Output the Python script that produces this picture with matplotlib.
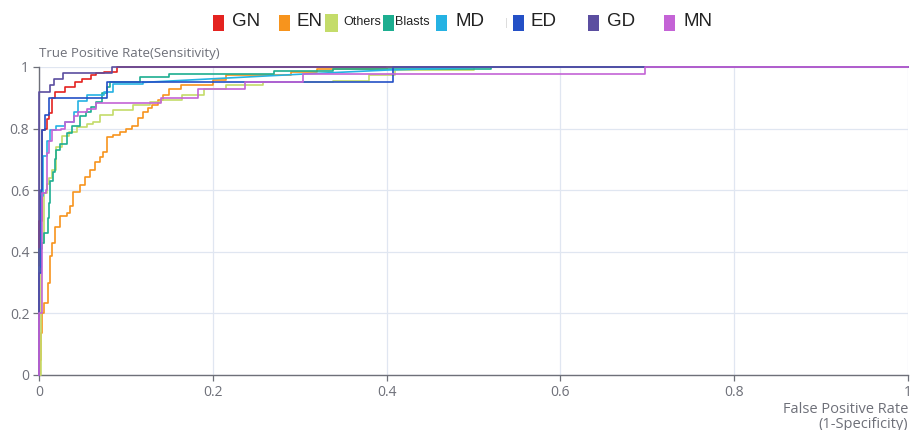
import matplotlib
matplotlib.use("Agg")
import matplotlib.pyplot as plt
from matplotlib.patches import Rectangle

W, H = 921, 430

CLASSES = ["GN", "EN", "Others", "Blasts", "MD", "ED", "GD", "MN"]
COLORS = ["#E42320", "#F7941D", "#C4DC6A", "#1DAE90", "#25B2E3", "#2450C6", "#5B4EA0", "#C463D6"]

TICKS = [0, 0.2, 0.4, 0.6, 0.8, 1]
TICK_LABELS = ["0", "0.2", "0.4", "0.6", "0.8", "1"]

# ROC points (fpr, tpr), corners of the staircase
GN_FPR = [0, 0, 0.003, 0.007, 0.009, 0.012, 0.015, 0.018, 0.03, 0.042, 0.05, 0.06, 0.066, 0.075, 0.09, 1]
GN_TPR = [0, 0.5, 0.795, 0.80, 0.83, 0.85, 0.90, 0.92, 0.935, 0.95, 0.96, 0.975, 0.98, 0.985, 1.0, 1.0]

EN_FPR = [0, 0.001, 0.002, 0.004, 0.006, 0.01, 0.013, 0.015, 0.018, 0.024, 0.032, 0.036, 0.039,
          0.047, 0.053, 0.059, 0.064, 0.07, 0.074, 0.078, 0.085, 0.093, 0.1, 0.107, 0.114, 0.12,
          0.126, 0.13, 0.137, 0.143, 0.15, 0.163, 0.2, 0.215, 0.29, 0.32, 0.40, 1]
EN_TPR = [0, 0.05, 0.135, 0.2, 0.233, 0.3, 0.385, 0.43, 0.48, 0.515, 0.525, 0.55, 0.595,
          0.617, 0.643, 0.665, 0.692, 0.708, 0.725, 0.772, 0.78, 0.79, 0.80, 0.81, 0.834, 0.855,
          0.867, 0.877, 0.893, 0.91, 0.928, 0.94, 0.957, 0.973, 0.984, 0.993, 1.0, 1.0]

OTHERS_FPR = [0, 0.002, 0.006, 0.009, 0.011, 0.015, 0.02, 0.026, 0.035, 0.044, 0.055, 0.062, 0.07,
              0.085, 0.108, 0.128, 0.14, 0.165, 0.19, 0.215, 0.258, 0.338, 0.38, 0.41, 0.5, 1]
OTHERS_TPR = [0, 0.43, 0.59, 0.62, 0.64, 0.665, 0.74, 0.775, 0.79, 0.805, 0.815, 0.82, 0.845,
              0.86, 0.877, 0.886, 0.893, 0.91, 0.93, 0.943, 0.95, 0.955, 0.975, 0.99, 1.0, 1.0]

BLASTS_FPR = [0, 0, 0.003, 0.006, 0.01, 0.012, 0.013, 0.016, 0.018, 0.02, 0.024, 0.032, 0.038,
              0.047, 0.054, 0.06, 0.066, 0.072, 0.078, 0.082, 0.116, 0.15, 0.27, 0.338, 0.52, 1]
BLASTS_TPR = [0, 0.41, 0.43, 0.46, 0.51, 0.56, 0.63, 0.66, 0.70, 0.73, 0.75, 0.785, 0.81,
              0.84, 0.855, 0.87, 0.887, 0.915, 0.935, 0.95, 0.967, 0.978, 0.987, 0.993, 1.0, 1.0]

MD_FPR = [0, 0, 0.002, 0.005, 0.009, 0.013, 0.02, 0.03, 0.04, 0.045, 0.055, 0.075, 0.085, 0.12]
MD_TPR = [0, 0.35, 0.58, 0.71, 0.76, 0.795, 0.81, 0.82, 0.855, 0.89, 0.91, 0.92, 0.945, 0.95]
# the cyan curve runs straight, not stepped, after 0.12
MD_TAIL_FPR = [0.12, 0.31, 0.40, 0.52, 1]
MD_TAIL_TPR = [0.95, 0.978, 0.99, 1.0, 1.0]

ED_FPR = [0, 0, 0.002, 0.004, 0.007, 0.012, 0.078, 0.407, 1]
ED_TPR = [0, 0.33, 0.6, 0.795, 0.845, 0.90, 0.95, 1.0, 1.0]

GD_FPR = [0, 0, 0.013, 0.017, 0.028, 0.084, 1]
GD_TPR = [0, 0.92, 0.94, 0.96, 0.98, 1.0, 1.0]

MN_FPR = [0, 0, 0.003, 0.008, 0.009, 0.012, 0.015, 0.025, 0.03, 0.04, 0.045, 0.055, 0.066,
          0.14, 0.183, 0.237, 0.304, 0.697, 1]
MN_TPR = [0, 0.2, 0.59, 0.6, 0.72, 0.76, 0.795, 0.80, 0.82, 0.84, 0.855, 0.865, 0.883,
          0.90, 0.928, 0.95, 0.978, 1.0, 1.0]

CURVES = [
    (GN_FPR, GN_TPR), (EN_FPR, EN_TPR), (OTHERS_FPR, OTHERS_TPR), (BLASTS_FPR, BLASTS_TPR),
    (MD_FPR, MD_TPR), (ED_FPR, ED_TPR), (GD_FPR, GD_TPR), (MN_FPR, MN_TPR),
]

# legend layout in pixels: square left edge, text left edge
LEGEND_SQ_X = [213, 279, 325, 383, 436, 513, 588, 664]
LEGEND_TX_X = [232, 297, 343, 395, 455, 530, 607, 683]
LEGEND_FS = [13.5, 13.5, 9, 9, 13.5, 13.5, 13.5, 13.5]

AXIS_GRAY = "#6E7079"
GRID = "#E0E6F1"

plt.rcParams["font.family"] = ["Open Sans", "DejaVu Sans"]

fig = plt.figure(figsize=(W / 100, H / 100), dpi=100)
ax = fig.add_axes([39 / W, 1 - 375 / H, (908 - 39) / W, (375 - 67) / H])

for i, (fpr, tpr) in enumerate(CURVES):
    ax.plot(fpr, tpr, drawstyle="steps-post", color=COLORS[i], lw=1.2, clip_on=False, zorder=3 + i)
    if CLASSES[i] == "MD":
        ax.plot(MD_TAIL_FPR, MD_TAIL_TPR, color=COLORS[i], lw=1.2, clip_on=False, zorder=3 + i)

ax.set_xlim(0, 1)
ax.set_ylim(0, 1)
ax.set_xticks(TICKS)
ax.set_xticklabels(TICK_LABELS)
ax.set_yticks(TICKS)
ax.set_yticklabels(TICK_LABELS)
ax.grid(True, color=GRID, lw=0.9)
ax.set_axisbelow(True)
ax.tick_params(colors=AXIS_GRAY, labelcolor=AXIS_GRAY, labelsize=10, length=4, width=0.9, pad=3)
for side in ["top", "right"]:
    ax.spines[side].set_visible(False)
for side in ["left", "bottom"]:
    ax.spines[side].set_color(AXIS_GRAY)
    ax.spines[side].set_linewidth(1.0)

fig.text(39 / W, 1 - 54 / H, "True Positive Rate(Sensitivity)", color=AXIS_GRAY,
         fontsize=9.5, ha="left", va="center")
fig.text(908 / W, 1 - 417 / H, "False Positive Rate\n(1-Specificity)", color=AXIS_GRAY,
         fontsize=10.5, ha="right", va="center", multialignment="right", linespacing=0.95)

# legend across the top
for i, name in enumerate(CLASSES):
    w = 13 if name == "Others" else 11
    h = 18 if name == "Others" else 16
    fig.add_artist(Rectangle((LEGEND_SQ_X[i] / W, 1 - (23 + h / 2) / H), w / W, h / H,
                             transform=fig.transFigure, color=COLORS[i], lw=0))
    fig.text(LEGEND_TX_X[i] / W, 1 - 22 / H, name, fontsize=LEGEND_FS[i],
             family=["Liberation Sans", "DejaVu Sans"],
             color="#222222", ha="left", va="center")
fig.add_artist(Rectangle((506 / W, 1 - 28 / H), 1 / W, 10 / H, transform=fig.transFigure,
                         color="#DDDDDD", lw=0))

fig.savefig("out.png", dpi=100)
